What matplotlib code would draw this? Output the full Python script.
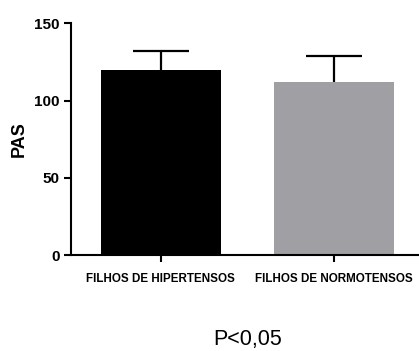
#!/usr/bin/env python3
"""PAS por grupo: filhos de hipertensos vs normotensos (média + DP)."""
import matplotlib
matplotlib.use("Agg")
import matplotlib.pyplot as plt

GROUPS = ["FILHOS DE HIPERTENSOS", "FILHOS DE NORMOTENSOS"]
MEANS = [120, 112]
SD = [12, 17]
COLORS = ["#000000", "#a0a0a4"]
Y_TICKS = [0, 50, 100, 150]

plt.rcParams["font.family"] = ["Liberation Sans", "DejaVu Sans"]

fig = plt.figure(figsize=(4.19, 3.51), dpi=100)
ax = fig.add_axes([0.169, 0.273, 0.831, 0.661])

x = list(range(len(GROUPS)))
ax.bar(x, MEANS, width=0.69, color=COLORS, zorder=2)
# upper error bar only (hide the cap at the bar top)
eb = ax.errorbar(x, MEANS, yerr=[[0] * len(SD), SD], fmt="none", ecolor="black",
                 elinewidth=1.6, capsize=20.5, capthick=1.6, zorder=1)
eb[1][0].set_visible(False)

ax.set_xlim(-0.52, 1.49)
ax.set_ylim(0, 150)
ax.set_yticks(Y_TICKS)
ax.set_xticks(x)
ax.set_xticklabels(GROUPS, fontsize=8.4, fontweight="bold")
ax.set_ylabel("PAS", fontsize=13, fontweight="bold", labelpad=5)
for lab in ax.get_yticklabels():
    lab.set_fontweight("bold")
    lab.set_fontsize(11)

for side in ("top", "right"):
    ax.spines[side].set_visible(False)
for side in ("left", "bottom"):
    ax.spines[side].set_linewidth(1.5)
ax.tick_params(axis="both", width=1.5, length=5, direction="out")
ax.tick_params(axis="x", pad=7.5)
ax.tick_params(axis="y", pad=3)

fig.text(0.592, 0.032, "P<0,05", ha="center", va="center", fontsize=15.5)

fig.savefig("out.png", dpi=100)
